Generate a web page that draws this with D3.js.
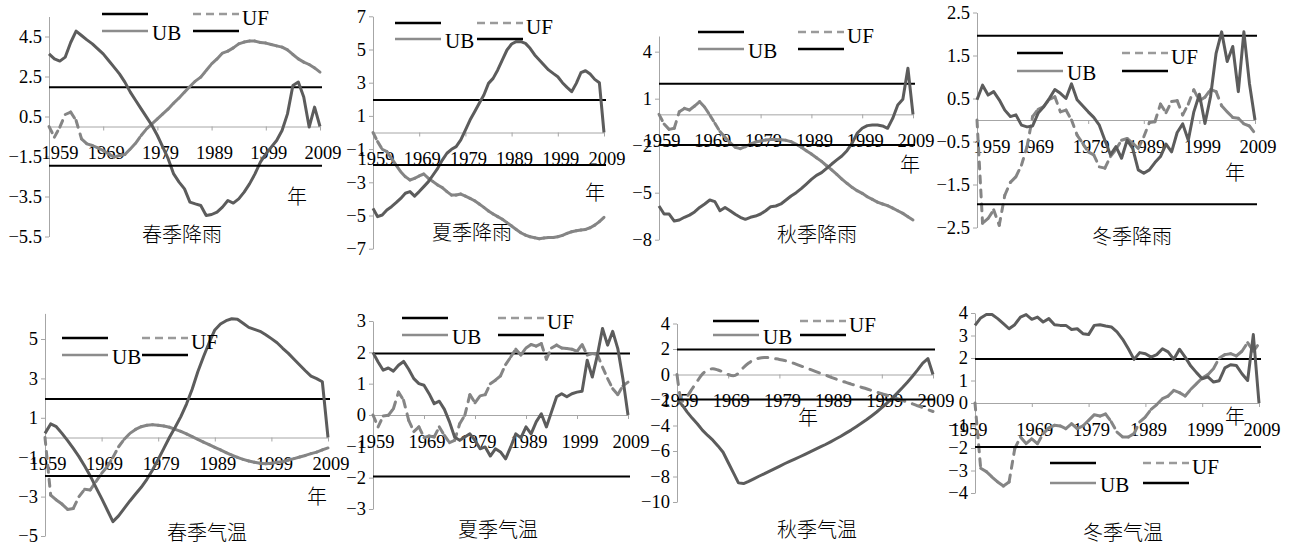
<!DOCTYPE html>
<html>
<head>
<meta charset="utf-8">
<script src="https://cdn.jsdelivr.net/npm/d3@7"></script>
<style>
  body { margin: 0; background: #fff; }
  svg { display: block; }
</style>
</head>
<body>
<svg id="chart" width="1289" height="547"></svg>
<script>
// 1959-2009, one value a year
const years = d3.range(1959, 2010);
const yearTicks = [1959, 1969, 1979, 1989, 1999, 2009];
const critical = 1.96;

const titles = ["春季降雨", "夏季降雨", "秋季降雨", "冬季降雨", "春季气温", "夏季气温", "秋季气温", "冬季气温"];

const yTicks = [
  [-5.5, -3.5, -1.5, 0.5, 2.5, 4.5],
  [-7, -5, -3, -1, 1, 3, 5, 7],
  [-8, -5, -2, 1, 4],
  [-2.5, -1.5, -0.5, 0.5, 1.5, 2.5],
  [-5, -3, -1, 1, 3, 5],
  [-3, -2, -1, 0, 1, 2, 3],
  [-10, -8, -6, -4, -2, 0, 2, 4],
  [-4, -3, -2, -1, 0, 1, 2, 3, 4]
];
const yDomains = [[-5.5, 5.5], [-7, 7], [-8, 5], [-2.5, 2.5], [-5, 6.3], [-3, 3], [-10, 4], [-4, 4]];

// 春季降雨
const springRainUF = [0, -0.53, -0.03, 0.6, 0.72, 0.3, -0.62, -0.87, -0.95, -1.07,
  -1.2, -1.37, -1.53, -1.45, -1.4, -1.12, -0.83, -0.45, -0.12, 0.13,
  0.38, 0.63, 0.88, 1.17, 1.43, 1.72, 2.0, 2.27, 2.47, 2.8,
  3.13, 3.38, 3.67, 3.77, 3.93, 4.13, 4.22, 4.27, 4.27, 4.2,
  4.17, 4.1, 4.03, 3.97, 3.83, 3.6, 3.38, 3.22, 3.1, 2.93, 2.72];
const springRainUB = [3.63, 3.38, 3.27, 3.47, 4.2, 4.77, 4.55, 4.33, 4.13, 3.88,
  3.63, 3.3, 2.97, 2.63, 2.22, 1.72, 1.3, 0.88, 0.47, 0.05,
  -0.45, -1.03, -1.62, -2.37, -2.78, -3.12, -3.78, -3.87, -3.95, -4.45,
  -4.4, -4.28, -4.03, -3.7, -3.83, -3.62, -3.28, -2.87, -2.37, -1.78,
  -1.37, -1.03, -0.7, -0.2, 0.63, 2.05, 2.22, 1.47, -0.03, 0.97, 0];

// 夏季降雨
const summerRainUF = [0, -0.55, -1.01, -1.15, -1.56, -1.96, -2.36, -2.66, -2.86, -2.76,
  -2.62, -2.5, -2.76, -2.96, -3.16, -3.32, -3.56, -3.77, -3.77, -3.71,
  -3.83, -3.97, -4.11, -4.31, -4.51, -4.73, -4.91, -5.07, -5.23, -5.43,
  -5.63, -5.84, -6.04, -6.18, -6.28, -6.34, -6.4, -6.36, -6.32, -6.32,
  -6.28, -6.2, -6.08, -5.98, -5.92, -5.88, -5.84, -5.74, -5.58, -5.37, -5.11];
const summerRainUB = [-4.57, -5.07, -4.97, -4.67, -4.47, -4.23, -3.97, -3.66, -3.56, -3.83,
  -3.56, -3.26, -2.96, -2.56, -2.16, -1.66, -1.25, -1.01, -0.85, -0.45,
  0.15, 0.75, 1.25, 1.76, 2.26, 2.96, 3.26, 3.77, 4.37, 4.97,
  5.33, 5.47, 5.47, 5.37, 5.07, 4.67, 4.37, 4.07, 3.77, 3.56,
  3.36, 3.0, 2.72, 2.46, 2.96, 3.6, 3.72, 3.52, 3.2, 3.0, 0];

// 秋季降雨
const autumnRainUF = [0, -0.62, -0.96, -0.89, 0.17, 0.38, 0.28, 0.53, 0.81, 0.45,
  -0.04, -0.57, -1.1, -1.47, -1.81, -2.1, -2.19, -2.06, -1.89, -1.77,
  -1.7, -1.64, -1.6, -1.6, -1.62, -1.66, -1.74, -1.91, -2.1, -2.32,
  -2.53, -2.77, -3.0, -3.28, -3.55, -3.83, -4.13, -4.4, -4.66, -4.87,
  -5.04, -5.26, -5.43, -5.6, -5.72, -5.83, -5.98, -6.15, -6.32, -6.53, -6.74];
const autumnRainUB = [-5.85, -6.36, -6.36, -6.81, -6.74, -6.57, -6.43, -6.23, -5.94, -5.72,
  -5.47, -5.57, -6.15, -5.94, -6.15, -6.38, -6.57, -6.7, -6.57, -6.49,
  -6.36, -6.15, -5.89, -5.85, -5.72, -5.47, -5.21, -5.0, -4.74, -4.45,
  -4.15, -3.89, -3.72, -3.45, -3.17, -2.91, -2.66, -2.32, -1.85, -1.21,
  -0.89, -0.72, -0.68, -0.68, -0.74, -0.89, -0.26, 0.6, 0.96, 2.94, 0];

// 冬季降雨
const winterRainUF = [0, -2.4, -2.29, -2.09, -2.45, -1.75, -1.45, -1.32, -1.05, -0.62,
  0.08, 0.25, 0.31, 0.48, 0.54, 0.19, 0.23, 0, -0.35, -0.54,
  -0.74, -0.81, -1.09, -1.12, -0.85, -0.68, -0.47, -0.43, -0.54, -0.66,
  -0.39, -0.06, -0.04, 0.37, 0.17, 0.43, 0.45, 0.12, 0.37, 0.7,
  0.45, 0.53, 0.71, 0.66, 0.33, 0.19, 0.06, 0.04, -0.09, -0.14, -0.31];
const winterRainUB = [0.47, 0.81, 0.58, 0.66, 0.47, 0.23, 0.08, 0.12, -0.12, -0.16,
  -0.14, 0.16, 0.31, 0.5, 0.71, 0.62, 0.5, 0.84, 0.47, 0.33,
  0.19, 0.06, -0.12, -0.47, -0.81, -0.62, -0.89, -0.47, -0.66, -1.16,
  -1.24, -1.16, -0.99, -0.85, -0.56, -0.74, -0.29, -0.09, -0.47, 0.19,
  0.6, -0.08, 0.54, 1.55, 2.05, 1.36, 1.71, 0.66, 2.05, 0.85, 0];

// 春季气温
const springTempUF = [0, -2.92, -3.17, -3.38, -3.65, -3.6, -3.0, -2.63, -2.66, -2.24,
  -1.82, -1.48, -1.01, -0.47, -0.09, 0.21, 0.41, 0.55, 0.62, 0.65,
  0.62, 0.58, 0.52, 0.41, 0.31, 0.18, 0.04, -0.09, -0.23, -0.36,
  -0.5, -0.63, -0.77, -0.89, -1.01, -1.11, -1.19, -1.26, -1.31, -1.33,
  -1.31, -1.26, -1.23, -1.14, -1.07, -0.99, -0.91, -0.82, -0.74, -0.63, -0.53];
const springTempUB = [0.21, 0.69, 0.55, 0.21, -0.16, -0.55, -0.97, -1.45, -1.95, -2.53,
  -3.09, -3.68, -4.27, -3.98, -3.6, -3.22, -2.87, -2.53, -2.12, -1.65,
  -1.11, -0.55, 0.01, 0.52, 1.06, 1.7, 2.45, 3.34, 4.1, 4.81,
  5.46, 5.76, 5.93, 6.03, 6.0, 5.8, 5.59, 5.49, 5.39, 5.22,
  5.02, 4.81, 4.53, 4.27, 3.97, 3.68, 3.39, 3.12, 2.99, 2.83, 0];

// 夏季气温
const summerTempUF = [0, -0.38, -0.03, -0.01, 0.2, 0.73, 0.47, -0.17, -0.53, -0.38,
  -0.72, -0.67, -0.7, -0.38, -0.65, -0.88, -0.81, -0.28, -0.01, 0.65,
  0.39, 0.61, 0.65, 1.0, 1.11, 1.25, 1.61, 1.85, 2.1, 1.91,
  2.14, 2.25, 2.2, 2.28, 1.78, 2.14, 2.23, 2.14, 2.12, 2.1,
  2.03, 2.25, 1.91, 1.96, 1.93, 1.53, 1.16, 0.84, 0.65, 0.93, 1.05];
const summerTempUB = [1.99, 1.69, 1.43, 1.5, 1.4, 1.59, 1.71, 1.46, 1.16, 1.0,
  0.95, 0.68, 0.36, 0.44, 0.18, -0.22, -0.7, -0.81, -0.7, -0.6,
  -0.81, -1.08, -1.02, -1.31, -1.08, -1.18, -1.4, -1.02, -0.6, -0.73,
  -0.38, -0.6, -0.22, 0.04, -0.38, 0.1, 0.58, 0.68, 0.58, 0.68,
  0.73, 0.76, 1.75, 1.21, 1.91, 2.76, 2.23, 2.67, 2.12, 1.16, 0];

// 秋季气温
const autumnTempUF = [0, -2.1, -1.7, -1.1, -0.5, 0.05, 0.35, 0.45, 0.35, 0.2,
  0.0, -0.1, 0.1, 0.55, 0.9, 1.15, 1.28, 1.33, 1.32, 1.25,
  1.18, 1.1, 1.0, 0.85, 0.7, 0.55, 0.4, 0.25, 0.1, -0.05,
  -0.2, -0.35, -0.5, -0.62, -0.75, -0.88, -1.0, -1.12, -1.25, -1.38,
  -1.5, -1.63, -1.76, -1.9, -2.03, -2.17, -2.3, -2.45, -2.6, -2.75, -2.9];
const autumnTempUB = [-2.0, -2.39, -2.95, -3.44, -3.88, -4.38, -4.78, -5.15, -5.6, -6.1,
  -6.9, -7.7, -8.5, -8.55, -8.38, -8.18, -7.98, -7.8, -7.6, -7.4,
  -7.2, -7.0, -6.82, -6.64, -6.45, -6.26, -6.07, -5.87, -5.68, -5.49,
  -5.28, -5.06, -4.84, -4.6, -4.36, -4.1, -3.83, -3.55, -3.25, -2.94,
  -2.6, -2.24, -1.86, -1.46, -1.04, -0.6, -0.14, 0.36, 0.9, 1.25, 0];

// 冬季气温
const winterTempUF = [0, -2.9, -3.05, -3.29, -3.51, -3.69, -3.51, -2.03, -1.51, -1.81,
  -1.59, -1.81, -1.36, -1.11, -0.99, -1.02, -1.14, -0.92, -1.14, -1.02,
  -0.77, -0.52, -0.58, -0.49, -0.84, -1.29, -1.51, -1.51, -1.36, -0.84,
  -0.62, -0.28, -0.07, 0.19, 0.31, 0.56, 0.46, 0.31, 0.61, 0.86,
  1.11, 1.26, 1.53, 2.0, 2.15, 2.19, 2.09, 2.3, 2.68, 2.3, 2.64];
const winterTempUB = [3.45, 3.78, 3.93, 3.93, 3.75, 3.53, 3.3, 3.48, 3.82, 3.93,
  3.72, 3.82, 3.6, 3.75, 3.48, 3.45, 3.45, 3.27, 3.3, 3.08,
  3.04, 3.45, 3.48, 3.42, 3.38, 3.16, 2.83, 2.41, 1.94, 2.24,
  2.19, 2.04, 2.15, 2.41, 2.27, 1.94, 2.39, 2.04, 1.64, 1.35,
  1.08, 1.16, 0.93, 0.99, 1.56, 1.7, 1.67, 1.3, 1.0, 3.04, 0];

const ufSeries = [springRainUF, summerRainUF, autumnRainUF, winterRainUF, springTempUF, summerTempUF, autumnTempUF, winterTempUF];
const ubSeries = [springRainUB, summerRainUB, autumnRainUB, winterRainUB, springTempUB, summerTempUB, autumnTempUB, winterTempUB];

// where each small chart sits on the page
const layout = [
  {x0: 49, x1: 320, top: 16.5, bottom: 236.5, firstDx: 8, title: [182, 235], nian: [297, 197], legend: [102, 14, 91, 17]},
  {x0: 373, x1: 604, top: 16.3, bottom: 248.7, firstDx: 0, title: [472, 233], nian: [595, 193], legend: [395, 23, 82, 16]},
  {x0: 659, x1: 913, top: 36, bottom: 239.7, firstDx: 0, title: [817, 235], nian: [910, 165], legend: [698, 32, 100, 17]},
  {x0: 977, x1: 1255, top: 12.5, bottom: 227.5, firstDx: 12, title: [1132, 237], nian: [1235, 173], legend: [1017, 53, 105, 18]},
  {x0: 45, x1: 328, top: 313.4, bottom: 536, firstDx: 0, title: [207, 533], nian: [317, 497], legend: [62, 338, 80, 17]},
  {x0: 373, x1: 628, top: 321, bottom: 509, firstDx: 0, title: [498, 530], nian: null, legend: [402, 318, 96, 17]},
  {x0: 677, x1: 933, top: 323.5, bottom: 502, firstDx: 0, title: [817, 530], nian: [808, 418], legend: [713, 321, 87, 14], smoothDash: true},
  {x0: 975, x1: 1259, top: 313, bottom: 493, firstDx: -9, title: [1123, 533], nian: [1235, 417], legend: [1050, 463, 93, 20]}
];

const serif = "'Liberation Serif', 'Times New Roman', serif";
const cjk = "'Noto Sans CJK SC', sans-serif";
const axisGray = "#a6a6a6";
const ubColor = "#5c5c5c";
const ufColor = "#858585";
const fmt = d => (d < 0 ? "\u2212" : "") + Math.abs(d);

const svg = d3.select("#chart");
svg.append("rect").attr("width", 1289).attr("height", 547).attr("fill", "#fff");

titles.forEach((title, k) => {
  const L = layout[k];
  const uf = ufSeries[k], ub = ubSeries[k];
  const x = d3.scaleLinear().domain([years[0], years[years.length - 1]]).range([L.x0, L.x1]);
  const y = d3.scaleLinear().domain(yDomains[k]).range([L.bottom, L.top]);
  const g = svg.append("g");

  // y axis
  g.append("g")
    .attr("transform", "translate(" + L.x0 + ",0)")
    .call(d3.axisLeft(y).tickValues(yTicks[k]).tickSize(4).tickSizeOuter(0).tickPadding(3).tickFormat(fmt))
    .call(a => {
      a.select(".domain").attr("stroke", axisGray);
      a.selectAll(".tick line").attr("stroke", axisGray);
      a.selectAll("text").attr("font-family", serif).attr("font-size", 18.5).attr("fill", "#000");
    });

  // x axis on the zero line, labels sit well below it
  const y0 = y(0);
  g.append("g")
    .attr("transform", "translate(0," + y0 + ")")
    .call(d3.axisBottom(x).tickValues(yearTicks).tickSize(4).tickSizeOuter(0).tickFormat(""))
    .call(a => {
      a.select(".domain").attr("stroke", axisGray);
      a.selectAll(".tick line").attr("stroke", axisGray);
    });

  g.selectAll(".yr").data(yearTicks).join("text")
    .attr("x", (d, i) => x(d) + 3 + (i === 0 ? L.firstDx : 0))
    .attr("y", y0 + 26.5)
    .attr("dy", "0.35em")
    .attr("text-anchor", "middle")
    .attr("font-family", serif).attr("font-size", 18.5)
    .text(d => d);

  if (L.nian) {
    g.append("text").attr("x", L.nian[0]).attr("y", L.nian[1]).attr("dy", "0.35em")
      .attr("text-anchor", "middle").attr("font-family", cjk).attr("font-weight", 300)
      .attr("font-size", 20).text("年");
  }

  g.append("text").attr("x", L.title[0]).attr("y", L.title[1]).attr("dy", "0.35em")
    .attr("text-anchor", "middle").attr("font-family", cjk).attr("font-weight", 300)
    .attr("font-size", 20).text(title);

  const critLine = c => g.append("line")
    .attr("x1", L.x0).attr("x2", L.x1 + 2)
    .attr("y1", y(c)).attr("y2", y(c))
    .attr("stroke", "#000").attr("stroke-width", 2);

  critLine(critical);

  // UF: dashes restart on every segment, so only steep steps show gaps
  const ufPts = years.map((yr, i) => [x(yr), y(uf[i])]);
  if (L.smoothDash) {
    g.append("path").attr("d", d3.line().curve(d3.curveMonotoneX)(ufPts))
      .attr("fill", "none").attr("stroke", ufColor).attr("stroke-width", 3)
      .attr("stroke-dasharray", "10,8").attr("stroke-linecap", "round");
  } else {
    g.selectAll(".uf").data(d3.pairs(ufPts)).join("line")
      .attr("x1", d => d[0][0]).attr("y1", d => d[0][1])
      .attr("x2", d => d[1][0]).attr("y2", d => d[1][1])
      .attr("stroke", ufColor).attr("stroke-width", 3)
      .attr("stroke-dasharray", "7,7").attr("stroke-linecap", "round");
  }

  g.append("path")
    .datum(ub)
    .attr("d", d3.line().x((d, i) => x(years[i])).y(d => y(d)))
    .attr("fill", "none").attr("stroke", ubColor).attr("stroke-width", 3)
    .attr("stroke-linejoin", "round");

  critLine(-critical);

  // legend: black / UF, UB / black
  const [lx, ly, col, row] = L.legend;
  const len = 46;
  const lg = g.append("g").attr("transform", "translate(" + lx + "," + ly + ")");
  lg.append("line").attr("x1", 0).attr("x2", len).attr("y1", 0).attr("y2", 0)
    .attr("stroke", "#000").attr("stroke-width", 2.5);
  lg.append("line").attr("x1", col).attr("x2", col + len).attr("y1", 0).attr("y2", 0)
    .attr("stroke", "#9a9a9a").attr("stroke-width", 2.5).attr("stroke-dasharray", "8,5");
  lg.append("text").attr("x", col + len + 3).attr("y", 4).attr("dy", "0.35em")
    .attr("font-family", serif).attr("font-size", 21).text("UF");
  lg.append("line").attr("x1", 0).attr("x2", len).attr("y1", row).attr("y2", row)
    .attr("stroke", "#8c8c8c").attr("stroke-width", 2.5);
  lg.append("text").attr("x", len + 4).attr("y", row + 2).attr("dy", "0.35em")
    .attr("font-family", serif).attr("font-size", 21).text("UB");
  lg.append("line").attr("x1", col).attr("x2", col + len).attr("y1", row).attr("y2", row)
    .attr("stroke", "#000").attr("stroke-width", 2.5);
});
</script>
</body>
</html>
